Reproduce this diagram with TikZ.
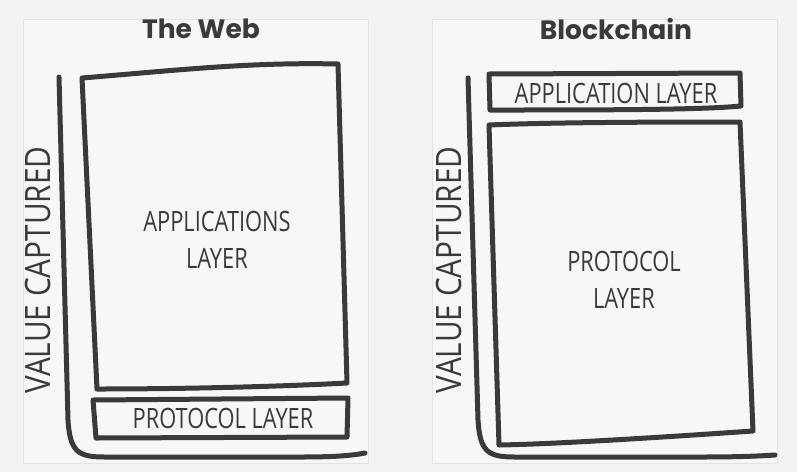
\documentclass[tikz,border=0pt]{standalone}
\usepackage{fontspec}
\usepackage{xcolor}
\newfontfamily\handfont[FakeStretch=0.78]{Open Sans}
\newfontfamily\axisfont[FakeStretch=0.85]{Open Sans}
\newfontfamily\titlefont{Poppins}
\definecolor{ink}{HTML}{3A3A3A}
\definecolor{bg}{HTML}{F3F3F3}
\definecolor{panel}{HTML}{F7F7F7}
\definecolor{edge}{HTML}{E4E4E4}

\begin{document}
\begin{tikzpicture}[x=1pt,y=-1pt]
	\tikzset{sketch/.style={draw=ink,line width=5pt,line cap=round,line join=round}}
	\tikzset{paper/.style={fill=panel,draw=edge,line width=0.8pt}}
	\tikzset{title/.style={font=\titlefont\bfseries\fontsize{26.5}{26}\selectfont,text=ink}}
	\tikzset{hand/.style={font=\handfont\fontsize{28}{37}\selectfont,text=ink,align=center}}
	\tikzset{axislabel/.style={hand,font=\axisfont\fontsize{35}{35}\selectfont,rotate=90}}

	\fill[bg] (0,0) rectangle (797,472);
	\useasboundingbox (0,0) rectangle (797,472);

% the web
	\draw[paper] (23,19) rectangle (368,463);
	\node[title] (webtitle) at (201,29) {The Web};
	\coordinate (webaxistop) at (59,77);
	\coordinate (webaxisend) at (365,453);
	\draw[sketch] (webaxistop) -- (68,420) .. controls (70,452) and (78,457) .. (105,457)
		-- (300,457) .. controls (330,457) and (350,456) .. (webaxisend);
	\draw[sketch] (82,78) .. controls (180,70) and (250,62) .. (338,64)
		-- (347,383) .. controls (250,388) and (150,389) .. (97,389) -- cycle;
	\node[hand] (webapps) at (217,240) {APPLICATIONS\\LAYER};
	\draw[sketch] (93,400) -- (348,398) -- (347,437) -- (96,438) -- cycle;
	\node[hand] (webproto) at (223,418) {PROTOCOL LAYER};
	\node[axislabel] (webvalue) at (38,270) {VALUE CAPTURED};

% blockchain
	\draw[paper] (432,19) rectangle (777,463);
	\node[title] (chaintitle) at (616,29) {Blockchain};
	\coordinate (chainaxistop) at (468,78);
	\coordinate (chainaxisend) at (775,455);
	\draw[sketch] (chainaxistop) -- (478,420) .. controls (480,452) and (488,457) .. (515,457)
		-- (700,457) .. controls (740,457) and (760,456) .. (chainaxisend);
	\draw[sketch] (489,74) -- (740,73) -- (741,106) .. controls (700,110) and (600,110) .. (490,110) -- cycle;
	\node[hand] (chainapps) at (616,93) {APPLICATION LAYER};
	\draw[sketch] (489,125) .. controls (560,122) and (680,122) .. (740,122)
		-- (753,431) .. controls (680,436) and (560,444) .. (499,445) -- cycle;
	\node[hand] (chainproto) at (624,280) {PROTOCOL\\LAYER};
	\node[axislabel] (chainvalue) at (449,270) {VALUE CAPTURED};
\end{tikzpicture}
\end{document}
